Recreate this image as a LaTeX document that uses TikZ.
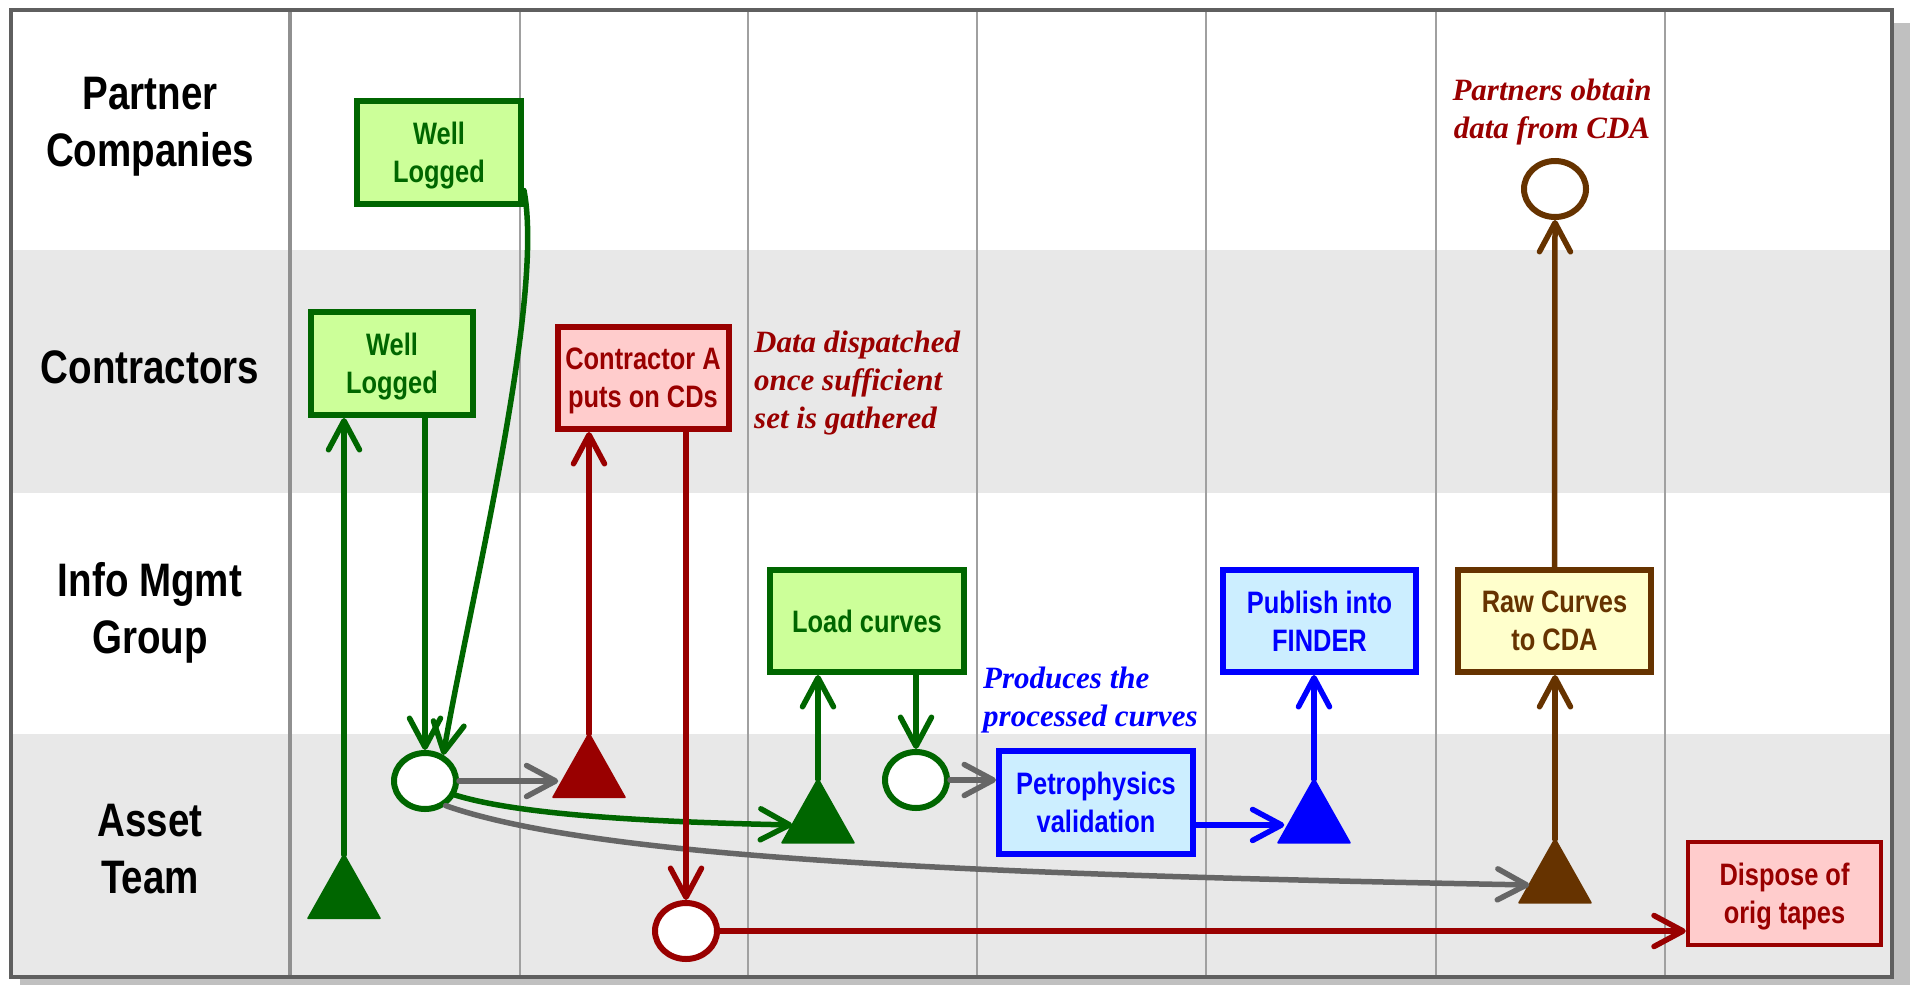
\documentclass[tikz,border=0pt]{standalone}
\usepackage{fontspec}
\newfontfamily\narfont[FakeStretch=0.82]{Liberation Sans}
\newfontfamily\serfont{Liberation Serif}
\usetikzlibrary{arrows.meta,shapes.geometric,calc}

\definecolor{dgreen}{HTML}{006600}
\definecolor{lgreen}{HTML}{CCFF99}
\definecolor{dred}{HTML}{990000}
\definecolor{lred}{HTML}{FFCCCC}
\definecolor{dblue}{HTML}{0000FF}
\definecolor{lblue}{HTML}{CCEEFF}
\definecolor{dbrown}{HTML}{663300}
\definecolor{lyellow}{HTML}{FFFFCC}
\definecolor{arrgray}{HTML}{666666}
\definecolor{lanegray}{HTML}{E8E8E8}
\definecolor{framegray}{HTML}{5F5F5F}
\definecolor{divgray}{HTML}{A0A0A0}
\definecolor{thickdiv}{HTML}{909090}
\definecolor{shadowgray}{HTML}{C0C0C0}

\begin{document}
\begin{tikzpicture}[x=1pt,y=-1pt,
  lanelabel/.style={font=\narfont\bfseries\fontsize{47}{57}\selectfont, align=center, inner sep=0},
  procbox/.style={rectangle, line width=6pt, font=\narfont\bfseries\fontsize{31}{38}\selectfont, align=center, inner sep=0, text depth=0pt},
  gbox/.style={procbox, draw=dgreen, fill=lgreen, text=dgreen},
  rbox/.style={procbox, draw=dred, fill=lred, text=dred},
  bbox/.style={procbox, draw=dblue, fill=lblue, text=dblue},
  ybox/.style={procbox, draw=dbrown, fill=lyellow, text=dbrown},
  evt/.style={ellipse, fill=white, line width=6pt, minimum width=62pt, minimum height=56pt, inner sep=0},
  tri/.style={rectangle, inner sep=0, minimum width=71pt, minimum height=63pt},
  arr/.style={line width=5.5pt, line cap=round, -{Straight Barb[length=29pt,width=31pt,round]}},
  note/.style={font=\serfont\bfseries\itshape\fontsize{31}{38}\selectfont, inner sep=0},
]
\useasboundingbox (0,0) rectangle (1910,985);
\fill[white] (0,0) rectangle (1910,985);
% shadow
\fill[shadowgray] (1894,23) rectangle (1910,985);
\fill[shadowgray] (20,979) rectangle (1910,985);
% lanes
\fill[lanegray] (11,250) rectangle (1892,493);
\fill[lanegray] (11,734) rectangle (1892,977);
\foreach \x in {520,748,977,1206,1436,1665}
  \draw[divgray, line width=2pt] (\x,10) -- (\x,977);
\draw[thickdiv, line width=4pt] (290,10) -- (290,977);
\draw[framegray, line width=4pt] (11,10) rectangle (1892,977);

% lane labels
\node[lanelabel] (lp) at (150,127) {Partner\\Companies};
\node[lanelabel] (lc) at (150,367) {Contractors};
\node[lanelabel] (li) at (150,613) {Info Mgmt\\Group};
\node[lanelabel] (la) at (150,849) {Asset\\Team};

% boxes
\node[gbox, minimum width=164pt, minimum height=103pt] (b1) at (439,152.5) {Well\\Logged};
\node[gbox, minimum width=162pt, minimum height=103pt] (b2) at (392,363.5) {Well\\Logged};
\node[rbox, minimum width=171pt, minimum height=102pt] (b3) at (643,378) {Contractor A\\puts on CDs};
\node[gbox, minimum width=194pt, minimum height=102pt] (b4) at (867,621) {Load curves};
\node[bbox, minimum width=194pt, minimum height=103pt] (b5) at (1096,802.5) {Petrophysics\\validation};
\node[bbox, minimum width=193pt, minimum height=102pt] (b6) at (1319.5,621) {Publish into\\FINDER};
\node[ybox, minimum width=193pt, minimum height=102pt] (b7) at (1554.5,621) {Raw Curves\\to CDA};
\node[rbox, line width=4.5pt, minimum width=193pt, minimum height=103pt] (b8) at (1784.5,893.5) {Dispose of\\orig tapes};

% events (circles)
\node[evt, draw=dgreen] (c1) at (425,781) {};
\node[evt, draw=dgreen] (c2) at (916,780) {};
\node[evt, draw=dred] (c3) at (686,931) {};
\node[evt, draw=dbrown] (c4) at (1555,189) {};

% triangles
\node[tri] (t1) at (344,886.5) {};
\node[tri] (t2) at (589,765.5) {};
\node[tri] (t3) at (818,811) {};
\node[tri] (t4) at (1314,811) {};
\node[tri] (t5) at (1555,871) {};
\filldraw[dgreen, line width=2pt, line join=round] (t1.north) -- (t1.south east) -- (t1.south west) -- cycle;
\filldraw[dred, line width=2pt, line join=round] (t2.north) -- (t2.south east) -- (t2.south west) -- cycle;
\filldraw[dgreen, line width=2pt, line join=round] (t3.north) -- (t3.south east) -- (t3.south west) -- cycle;
\filldraw[dblue, line width=2pt, line join=round] (t4.north) -- (t4.south east) -- (t4.south west) -- cycle;
\filldraw[dbrown, line width=2pt, line join=round] (t5.north) -- (t5.south east) -- (t5.south west) -- cycle;
\coordinate (t2in) at ($(t2.north)!0.72!(t2.south west)$);
\coordinate (t3in) at ($(t3.north)!0.72!(t3.south west)$);
\coordinate (t4in) at ($(t4.north)!0.72!(t4.south west)$);
\coordinate (t5in) at ($(t5.north)!0.72!(t5.south west)$);

% notes
\node[note, text=dred, anchor=north west, align=left] (n1) at (754,331) {Data dispatched\\once sufficient\\set is gathered};
\node[note, text=dblue, anchor=north west, align=left] (n2) at (983,667) {Produces the\\processed curves};
\node[note, text=dred, anchor=north, align=center] (n3) at (1552,79) {Partners obtain\\data from CDA};

% connectors
\draw[arr, arrgray] (c1.-50) .. controls (600,860) and (1000,875) .. (t5in);
\draw[arr, dgreen] (c1.-25) .. controls (520,815) and (650,822) .. (t3in);
\draw[arr, arrgray, shorten >=5pt] (c1.east) -- (c1.east -| t2in);
\draw[arr, dgreen] (t1.north) -- (t1.north |- b2.south);
\draw[arr, dgreen] (c1.north |- b2.south) -- (c1.north);
\draw[arr, dgreen] ([yshift=-38pt]b1.east) .. controls (545,300) and (470,600) .. (c1.55);
\draw[arr, dred] (t2.north) -- (t2.north |- b3.south);
\draw[arr, dred] (c3.north |- b3.south) -- (c3.north);
\draw[arr, dred] (c3.east) -- (c3.east -| b8.west);
\draw[arr, dgreen] (t3.north) -- (t3.north |- b4.south);
\draw[arr, dgreen] (c2.north |- b4.south) -- (c2.north);
\draw[arr, arrgray] (c2.east) -- (c2.east -| b5.west);
\draw[arr, dblue, shorten >=4pt] (b5.east |- t4in) -- (t4in);
\draw[arr, dblue] (t4.north) -- (t4.north |- b6.south);
\draw[arr, dbrown] (t5.north) -- (t5.north |- b7.south);
\draw[arr, dbrown] (b7.north) -- (c4.south);
\end{tikzpicture}
\end{document}
